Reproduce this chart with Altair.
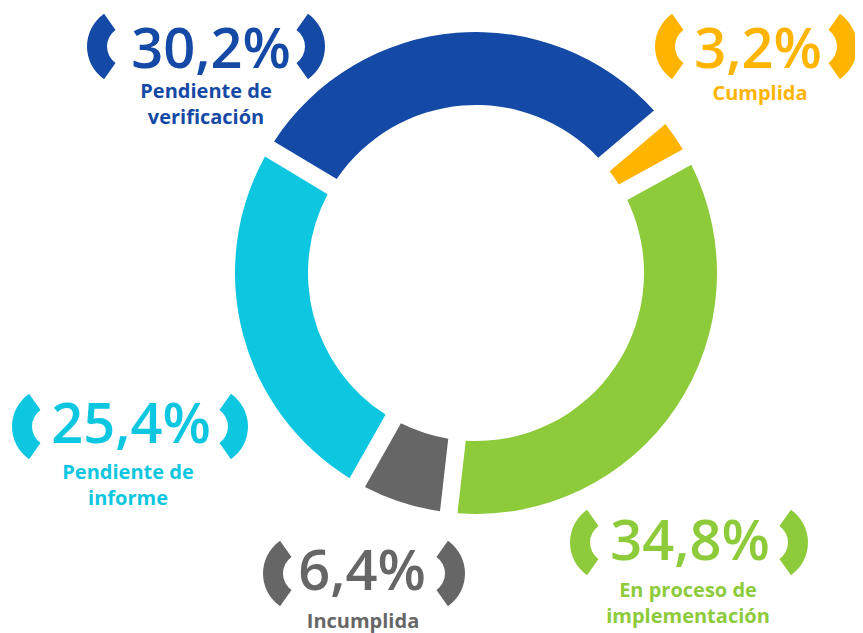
import math
import altair as alt
import pandas as pd

# ---- data ----
categories = ["Cumplida", "En proceso de implementación", "Incumplida",
              "Pendiente de informe", "Pendiente de verificación"]
label_line1 = ["Cumplida", "En proceso de", "Incumplida", "Pendiente de", "Pendiente de"]
label_line2 = ["", "implementación", "", "informe", "verificación"]
values = [3.2, 34.8, 6.4, 25.4, 30.2]
colors = ["#FFB500", "#8DCB3B", "#666666", "#0DC6E0", "#1449A5"]

df = pd.DataFrame({
    "cat": categories,
    "line1": label_line1,
    "line2": label_line2,
    "value": values,
    "order": list(range(len(categories))),
})

# ---- layout (page pixels, origin shifted by the 8px page margin) ----
M = 8
START = math.radians(49.7)
CX, CY = 476 - M, 273 - M
R_OUT, R_IN = 241, 168

# per category: number centre x, number baseline y, label centre x, label baseline y,
# left bracket outer x, right bracket outer x, bracket centre y
layout = {
    "Pendiente de verificación": (211, 68, 206, 98, 87, 325, 46.5),
    "Cumplida": (758, 68, 760, 100, 655, 857, 46.5),
    "Pendiente de informe": (131, 443, 128, 479, 12, 248, 426.5),
    "Incumplida": (362, 590, 363, 628, 263, 465, 573.5),
    "En proceso de implementación": (690, 560, 688, 597, 570, 808, 542.5),
}
BR_R = 40
BR_T = 20
BR_B = math.radians(55)
LINE_H = 26
FONT = "Open Sans"

color_scale = alt.Scale(domain=categories, range=colors)
base = alt.Chart(df)

donut = base.mark_arc(innerRadius=R_IN, outerRadius=R_OUT, padAngle=0.06).encode(
    theta=alt.Theta("value:Q", stack=True,
                    scale=alt.Scale(range=[START, START + 2 * math.pi])),
    color=alt.Color("cat:N", scale=color_scale, legend=None),
    order=alt.Order("order:Q"),
    x=alt.value(CX),
    y=alt.value(CY),
)

layers = [donut]
for cat, (nx, ny, lx, ly, bl, br, by) in layout.items():
    sub = base.transform_filter(alt.datum.cat == cat)
    col = alt.Color("cat:N", scale=color_scale, legend=None)
    # brackets
    left = sub.mark_arc(radius=BR_R, radius2=BR_R - BR_T,
                        theta=1.5 * math.pi - BR_B, theta2=1.5 * math.pi + BR_B).encode(
        x=alt.value(bl + BR_R - M), y=alt.value(by - M), color=col)
    right = sub.mark_arc(radius=BR_R, radius2=BR_R - BR_T,
                         theta=0.5 * math.pi - BR_B, theta2=0.5 * math.pi + BR_B).encode(
        x=alt.value(br - BR_R - M), y=alt.value(by - M), color=col)
    num = sub.transform_calculate(
        pct="replace(format(datum.value, '.1f'), '.', ',') + '%'"
    ).mark_text(font=FONT, fontSize=56, fontWeight=600, align="center",
                baseline="alphabetic").encode(
        text="pct:N", x=alt.value(nx - M), y=alt.value(ny - M), color=col)
    l1 = sub.mark_text(font=FONT, fontSize=20, fontWeight="bold", align="center",
                       baseline="alphabetic").encode(
        text="line1:N", x=alt.value(lx - M), y=alt.value(ly - M), color=col)
    l2 = sub.mark_text(font=FONT, fontSize=20, fontWeight="bold", align="center",
                       baseline="alphabetic").encode(
        text="line2:N", x=alt.value(lx - M), y=alt.value(ly + LINE_H - M), color=col)
    layers += [left, right, num, l1, l2]

chart = alt.layer(*layers).properties(
    width=847, height=625, padding=0, autosize="none"
).configure_view(stroke=None)

chart.save("out.html", embed_options={"renderer": "svg", "actions": False})
